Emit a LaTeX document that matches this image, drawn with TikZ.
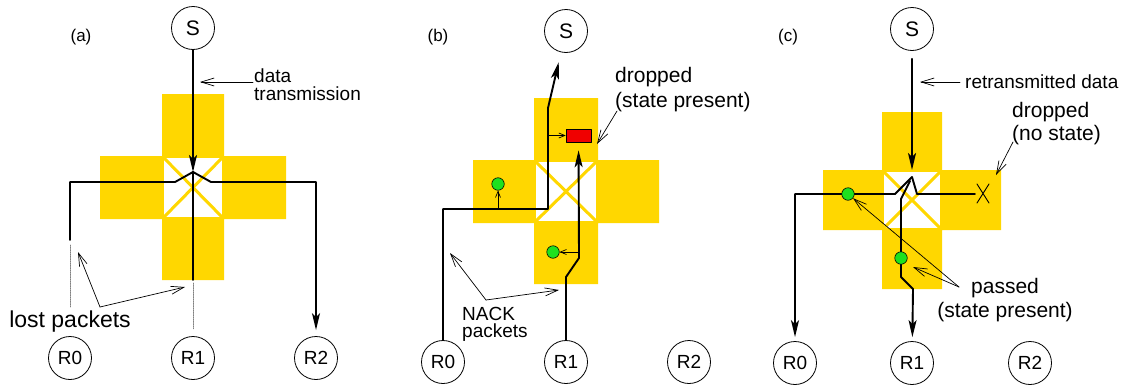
\documentclass[tikz,border=0pt]{standalone}
\usepackage{fontspec}
\setmainfont{Liberation Sans}
\usetikzlibrary{arrows.meta}
\definecolor{gold}{HTML}{FFD700}
\definecolor{nackgreen}{HTML}{1EE11E}
\definecolor{dropred}{HTML}{F00000}
\begin{document}
\begin{tikzpicture}[x=1pt, y=-1pt, line cap=round, line join=round,
	flow/.style={line width=1.9pt},
	head/.style={-{Stealth[length=17pt,width=8pt,inset=4pt]}},
	note/.style={line width=0.7pt, -{Straight Barb[length=13pt,width=8pt]}},
	smallarr/.style={line width=0.7pt, -{Straight Barb[length=6pt,width=5pt]}},
	host/.style={draw, circle, line width=0.8pt, minimum size=43pt, inner sep=0pt, font=\fontsize{19}{19}\selectfont},
	txt/.style={inner sep=0pt, align=left, font=\fontsize{21}{25}\selectfont},
	nackdot/.style={draw, circle, fill=nackgreen, line width=0.6pt, minimum size=12.5pt, inner sep=0pt},
	lost/.style={densely dotted, line width=0.8pt, gray}]
	\useasboundingbox (0,0) rectangle (1126,391);
	% (a)
	\fill[gold] (162,94) rectangle (224,280) (100,156) rectangle (286,219);
	\fill[white] (164,158) rectangle (222,217);
	\draw[gold, line width=3pt] (164,158) -- (222,217) (164,217) -- (222,158);
	\node[txt, font=\fontsize{17}{17}\selectfont] (laba) at (81,37) {(a)};
	\node[host, font=\fontsize{21}{21}\selectfont] (Sa) at (193,28) {S};
	\node[host] (R0a) at (70,358) {R0};
	\node[host] (R1a) at (193,358) {R1};
	\node[host] (R2a) at (316,358) {R2};
	\coordinate (Xa) at (193,172);
	\draw[flow, head] (Sa) -- (Xa);
	\draw[flow] (Xa) -- ++(0,108) coordinate (Ea);
	\draw[flow] (Xa) -- ++(-18,10) -| ++(-105,58) coordinate (La);
	\draw[flow, head, shorten >=6pt] (Xa) -- ++(18,10) -| (R2a);
	\draw[lost, shorten <=5pt, shorten >=29pt] (La) -- (R0a);
	\draw[lost, shorten <=3pt, shorten >=7pt] (Ea) -- (R1a);
	\node[txt, anchor=west, font=\fontsize{19}{18}\selectfont] (dta) at (254,85) {data\\transmission};
	\draw[note] (dta.west) ++(-1,-3) -- ++(-53,0);
	\node[txt, font=\fontsize{23}{23}\selectfont] (lpa) at (70,322) {lost packets};
	\coordinate (lpt) at (100,307);
	\draw[note] (lpt) -- ++(-22,-55);
	\draw[note] (lpt) -- ++(85,-20);
	% (b)
	\fill[gold] (534,98) rectangle (598,284) (473,160) rectangle (659,223);
	\fill[white] (536,162) rectangle (596,221);
	\draw[gold, line width=3pt] (536,162) -- (596,221) (536,221) -- (596,162);
	\node[txt, font=\fontsize{17}{17}\selectfont] (labb) at (438,37) {(b)};
	\node[host, font=\fontsize{21}{21}\selectfont] (Sb) at (566,31) {S};
	\node[host] (R0b) at (443,362) {R0};
	\node[host] (R1b) at (566,362) {R1};
	\node[host] (R2b) at (689,362) {R2};
	\node[draw, fill=dropred, line width=0.6pt, minimum width=25pt, minimum height=13pt, inner sep=0pt] (drop) at (578.5,135.5) {};
	\node[nackdot] (g0) at (498,184) {};
	\node[nackdot] (g1) at (553,252) {};
	\coordinate (Jb) at (548,209);
	\draw[flow, head, shorten >=10pt] (R0b) |- (Jb) -- ++(0,-101) -- (Sb);
	\draw[flow, head, shorten >=8pt] (R1b) -- ++(0,-85) -- ++(13,-19) coordinate (Kb) -- (drop);
	\draw[smallarr] (Jb -| g0) -- (g0);
	\draw[smallarr] (Kb) ++(0,-6) -- (g1);
	\draw[smallarr] (Jb |- drop) -- (drop);
	\node[txt, anchor=west] (dpb) at (615,90) {dropped\\(state present)};
	\coordinate (dpt) at (617,111);
	\draw[note] (dpt) -- ++(-20,33);
	\node[txt, anchor=west, font=\fontsize{19}{17}\selectfont] (nack) at (462,324) {NACK\\packets};
	\coordinate (npt) at (486,300);
	\draw[note] (npt) -- ++(-36,-47);
	\draw[note] (npt) -- ++(73,-10);
	% (c)
	\fill[gold] (882,112) rectangle (942,289) (823,170) rectangle (1001,230);
	\fill[white] (884,172) rectangle (940,228);
	\draw[gold, line width=3pt] (884,172) -- (940,228) (884,228) -- (940,172);
	\node[txt, font=\fontsize{17}{17}\selectfont] (labc) at (788,37) {(c)};
	\node[host, font=\fontsize{21}{21}\selectfont] (Sc) at (912,29) {S};
	\node[host] (R0c) at (795,363) {R0};
	\node[host] (R1c) at (912,363) {R1};
	\node[host] (R2c) at (1030,363) {R2};
	\coordinate (Pc) at (912,177);
	\draw[flow, head, shorten <=8pt, shorten >=7pt] (Sc) -- (Pc);
	\draw[flow, head, shorten >=4pt] (Pc) -- ++(-17,17) -| (R0c);
	\draw[flow] (Pc) -- ++(5,17) -- ++(58,0) coordinate (Xc);
	\draw[line width=0.9pt] (Xc) ++(2,-10) -- ++(12,19) ++(-12,0) -- ++(12,-19);
	\draw[flow, head, shorten >=4pt] (Pc) ++(-2,4) -- ++(-9,18) -- ++(0,78) -- ++(12,12) -- (R1c);
	\node[nackdot] (g2) at (848,194) {};
	\node[nackdot] (g3) at (901,258) {};
	\node[txt, anchor=west, font=\fontsize{19}{19}\selectfont] (rtx) at (965,82) {retransmitted data};
	\draw[note] (rtx.west) ++(-5,0) -- ++(-40,0);
	\node[txt, anchor=west, font=\fontsize{21}{23}\selectfont] (dpc) at (1012,124) {dropped\\(no state)};
	\coordinate (dct) at (1013,142);
	\draw[note] (dct) -- ++(-17,33);
	\node[txt, align=center, font=\fontsize{21}{24}\selectfont] (pss) at (1005,300) {passed\\(state present)};
	\coordinate (pct) at (959,287);
	\draw[note] (pct) -- (g2);
	\draw[note] (pct) -- ++(-46,-20);
\end{tikzpicture}
\end{document}
